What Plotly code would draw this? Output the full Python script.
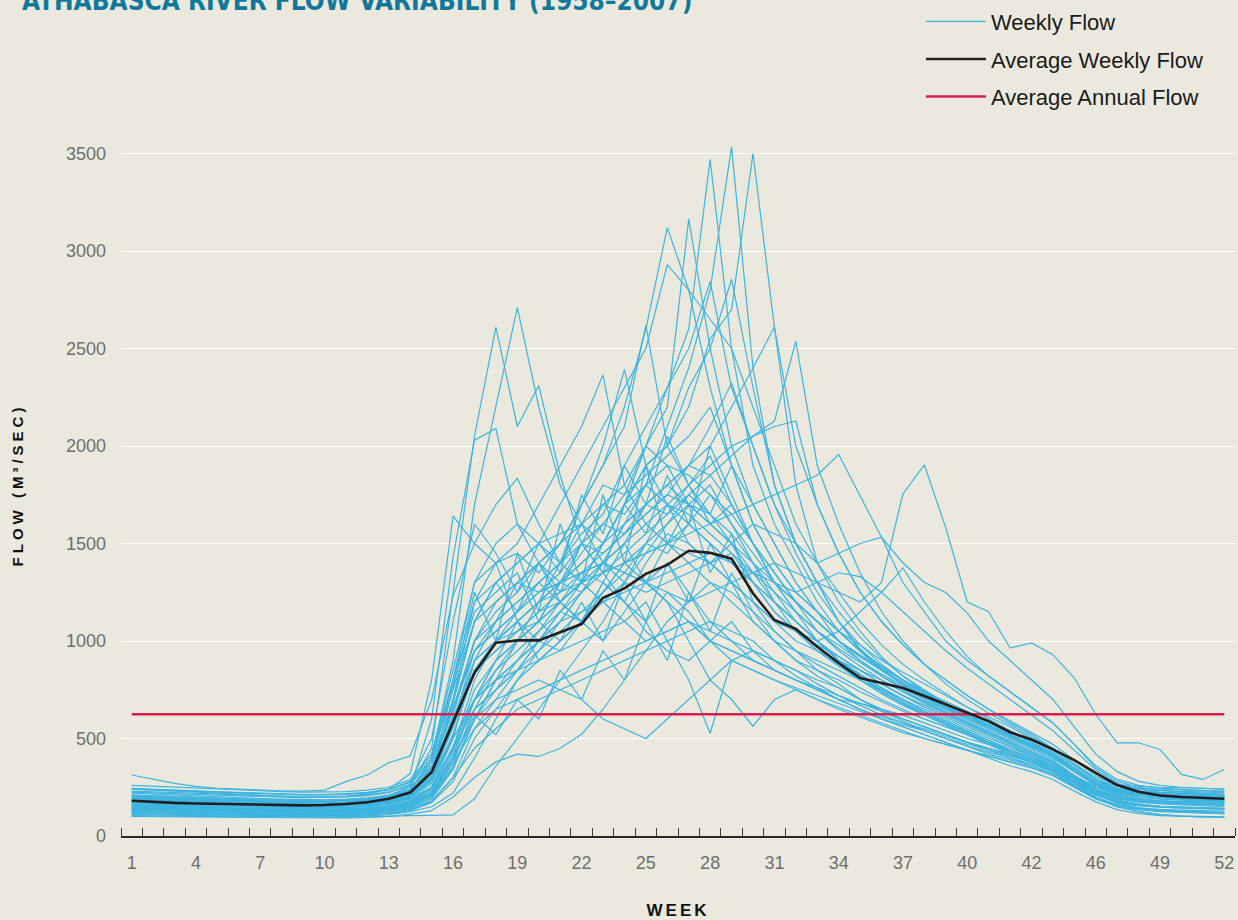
import plotly.graph_objects as go

weeks = list(range(1, 53))
tick_weeks = [1, 4, 7, 10, 13, 16, 19, 22, 25, 28, 31, 34, 37, 40, 43, 46, 49, 52]
tick_labels = ["1", "4", "7", "10", "13", "16", "19", "22", "25", "28", "31", "34",
               "37", "40", "42", "46", "49", "52"]
y_ticks = [0, 500, 1000, 1500, 2000, 2500, 3000, 3500]

# Weekly flow (m3/s) for each year 1958-2007, weeks 1..52
weekly_flows = [
    [200,195,190,185,180,175,172,170,168,170,175,185,200, 260,450,1250, 2050,2610,2100,2310,1850,1500,1350,1200,1100,1250,1150,1000,950,900,850,800,760, 720,680,640,600,560,520,480,450,420,390,350,300,260, 230,210,200,195,190,185],
    [180,175,170,168,165,162,160,158,155,155,158,165,180, 230,400,900, 1700,2205,2710,2200,1800,1600,1400,1500,1300,1200,1100,1050,1000,950,900,850,800, 760,700,650,600,560,520,480,450,420,380,340,290,250, 220,200,190,185,180,175],
    [240,235,230,225,220,215,210,205,200,200,205,215,240, 320,800,1640, 1500,1400,1100,1000,950,1100,1300,1200,1050,950,900,1000,1100,950,850,800,750, 700,680,650,620,580,540,500,470,440,400,360,300,250, 220,210,205,200,195,190],
    [160,158,155,152,150,148,146,145,144,145,148,155,170, 240,600,1430, 2030,2090,1600,1400,1200,1100,1000,1150,1300,1400,1250,1100,1000,900,850,800,750, 700,650,610,580,550,510,480,450,410,380,330,280,230, 200,180,170,165,160,160],
    [313,290,270,255,245,240,235,232,230,235,279,313,376, 410,700,1233, 1500,1700,1834,1600,1400,1300,1200,1100,1000,1050,1100,1000,900,850,800,760,720, 680,640,600,570,540,500,470,440,410,380,340,290,250, 230,220,210,205,200,195],
    [150,148,145,142,140,138,136,135,134,134,136,140,150, 170,220,400, 700,900,1000,1100,1200,1300,1500,1700,2000,2300,2600,3470,2500,1900,1600,1400,1200, 1050,950,850,780,720,660,600,550,500,450,400,330,270, 230,210,200,190,185,180],
    [130,128,125,122,120,118,116,115,114,114,116,120,130, 150,200,350, 600,800,900,1000,1100,1250,1400,1600,1800,2100,2400,2800,3534,2400,1800,1500,1300, 1100,950,850,780,700,640,580,530,480,430,380,310,250, 210,190,180,175,170,165],
    [170,168,165,162,160,158,155,153,152,152,155,160,170, 190,250,450, 800,1000,1100,1200,1300,1400,1500,1700,1900,2000,2200,2550,2700,3500,2610,1800,1400, 1200,1050,920,820,740,670,610,560,510,460,410,340,270, 230,215,205,200,195,190],
    [190,185,180,176,172,168,165,162,160,160,163,170,185, 220,350,650, 1000,1200,1300,1400,1500,1700,1900,2200,2600,3120,2800,2300,1900,1600,1400,1250,1150, 1050,950,870,800,740,680,620,570,520,470,420,340,270, 235,220,210,205,200,195],
    [140,138,135,132,130,128,126,125,124,124,126,130,140, 160,210,380, 650,850,1000,1100,1300,1500,1700,1800,2000,2200,3165,2500,2000,1700,1500,1300,1150, 1000,900,820,750,690,630,580,530,480,430,380,300,240, 200,185,175,170,165,160],
    [210,205,200,196,192,188,185,182,180,180,183,190,205, 240,380,700, 1100,1300,1400,1500,1700,1900,2100,2300,2500,2930,2800,2650,2500,2200,1900,1600,1400, 1250,1100,980,880,800,730,660,600,540,480,420,350,280, 240,225,215,210,205,200],
    [160,158,155,152,150,148,146,144,142,142,145,150,162, 190,270,520, 850,1000,1150,1300,1400,1550,1650,1900,2100,2300,2500,2844,2300,2000,1700,1450,1250, 1100,980,880,800,730,670,610,560,510,460,410,330,260, 220,200,190,185,180,175],
    [120,118,116,114,112,110,108,107,106,106,108,112,120, 140,180,300, 550,700,850,1000,1150,1300,1500,1700,1900,2000,2300,2500,2855,2300,1800,1500,1300, 1100,960,860,780,710,650,590,540,490,440,390,310,240, 195,175,165,160,155,150],
    [175,172,168,165,162,160,158,156,155,155,158,164,178, 205,290,520, 850,1000,1100,1200,1300,1400,1500,1600,1700,1800,1900,2000,2200,2400,2610,2000,1700, 1450,1250,1100,980,880,800,720,650,580,520,450,370,290, 245,225,215,210,205,200],
    [145,143,140,138,136,134,132,130,129,129,131,136,146, 170,230,420, 700,850,950,1050,1150,1250,1350,1450,1550,1650,1750,1850,1950,2050,2128,2537,1900, 1600,1350,1150,1000,880,780,700,630,570,510,450,370,290, 240,215,200,195,190,185],
    [200,196,192,188,184,180,177,174,172,172,175,182,196, 230,330,600, 900,1000,1100,1200,1250,1300,1350,1400,1450,1500,1550,1600,1650,1700,1750,1800,1850, 1956,1744,1532,1300,1150,1000,900,820,740,660,580,470,350, 280,250,235,225,220,215],
    [220,215,210,205,200,196,192,189,186,186,189,196,210, 250,360,650, 950,1050,1150,1250,1300,1350,1400,1350,1300,1250,1200,1250,1300,1350,1400,1350,1300, 1250,1200,1300,1754,1903,1580,1200,1150,964,990,930,810,623, 478,478,444,316,290,341],
    [185,182,178,175,172,169,166,164,162,162,165,172,186, 215,310,560, 850,950,1050,1150,1200,1300,1350,1400,1450,1500,1450,1400,1500,1600,1550,1500,1400, 1450,1500,1532,1400,1300,1249,1143,1000,900,800,700,560,420, 330,280,260,250,245,240],
    [165,162,158,155,152,150,148,146,145,145,148,155,168, 195,300,700, 1200,1400,1500,1700,1900,2100,2365,1800,1600,1500,1400,1300,1200,1100,1000,950,900, 850,800,750,700,650,600,550,500,460,420,370,300,240, 205,190,182,178,175,172],
    [205,200,196,192,188,184,181,178,176,176,179,186,200, 235,380,800, 1300,1500,1600,1500,1400,1700,2000,2392,1900,1700,1500,1400,1300,1200,1100,1000,950, 900,850,800,740,690,630,580,530,480,430,380,310,250, 215,200,192,188,185,180],
    [150,148,145,142,140,138,136,134,133,133,135,140,152, 178,250,500, 900,1100,1300,1400,1500,1700,1900,2100,2620,2000,1800,1600,1500,1300,1150,1050,980, 920,850,780,720,660,610,560,510,460,410,360,290,230, 195,180,172,168,165,162],
    [125,123,120,118,116,114,112,111,110,110,112,117,126, 145,190,340, 600,800,1000,1200,1400,1600,1800,1750,2000,1900,1700,1800,1600,1400,1200,1050,950, 880,800,730,670,620,570,520,470,430,390,340,270,210, 170,155,148,145,142,140],
    [230,226,222,218,214,210,206,203,200,200,203,210,228, 265,400,750, 1100,1200,1300,1250,1350,1500,1600,1750,1850,1950,2050,2200,1900,1700,1500,1300,1150, 1050,950,870,800,740,680,620,570,520,470,420,350,280, 245,230,222,218,215,210],
    [110,108,106,104,102,100,99,98,97,97,99,103,110, 125,150,220, 400,600,800,900,1000,1100,1300,1500,1700,1800,1900,1850,1700,1500,1300,1150,1000, 900,820,740,680,620,570,520,470,420,380,330,260,200, 160,140,130,125,122,120],
    [105,103,101,100,99,98,97,96,95,95,96,98,102, 104,106,108, 191,359,500,650,800,950,1100,1300,1500,1700,1600,1500,1400,1300,1200,1100,1000, 900,820,750,690,630,580,530,480,430,390,340,270,200, 150,125,110,102,98,95],
    [135,133,130,128,126,124,122,121,120,120,122,126,135, 155,210,380, 550,650,700,750,800,850,900,950,1000,1050,1100,1000,950,900,850,800,750, 700,650,600,560,520,480,440,410,380,350,310,250,190, 150,135,125,120,118,115],
    [145,142,140,138,135,133,131,130,129,129,131,135,144, 165,220,400, 600,700,750,800,750,700,600,550,500,600,700,800,900,850,800,750,700, 650,610,570,530,500,470,440,410,380,350,310,250,190, 155,140,130,125,122,120],
    [180,176,172,168,165,162,160,158,156,156,158,164,176, 200,280,500, 700,800,850,900,950,1000,1050,1100,1200,1000,800,527,900,950,900,850,780, 720,670,620,580,540,500,460,430,400,370,330,270,210, 175,160,152,148,145,142],
    [155,152,150,147,145,143,141,139,138,138,140,145,156, 180,250,450, 650,750,850,950,1050,1150,1250,1350,1300,1200,1000,800,700,563,700,750,700, 660,620,580,540,500,470,440,410,380,350,310,250,195, 160,145,137,133,130,128],
    [100,99,98,97,96,95,94,93,92,92,93,96,100, 112,130,200, 300,380,420,408,450,522,650,800,950,1100,1200,1300,1250,1150,1050,950,850, 780,700,640,590,540,500,460,420,390,360,320,260,195, 150,125,110,102,100,98],
    [195,191,187,183,179,176,173,170,168,168,171,178,192, 225,340,650, 1000,1100,1200,1300,1400,1500,1450,1550,1650,1750,1700,1600,1500,1400,1300,1200,1100, 1000,920,850,780,720,660,600,550,500,450,400,330,260, 225,210,200,195,192,190],
    [260,255,250,245,240,236,232,228,225,225,228,235,250, 290,420,800, 1200,1300,1400,1500,1550,1600,1700,1650,1800,1900,1850,1750,1600,1450,1300,1200,1100, 1000,930,860,800,740,690,640,590,540,490,440,370,300, 265,255,250,248,245,240],
    [115,113,111,109,107,105,104,103,102,102,104,108,115, 130,170,280, 500,650,800,950,1100,1250,1400,1350,1500,1600,1700,1650,1550,1400,1250,1100,1000, 900,830,760,700,640,590,540,490,440,400,350,280,215, 170,145,130,122,118,115],
    [170,167,164,161,158,156,154,152,150,150,153,159,172, 200,290,560, 850,950,1050,1150,1250,1350,1450,1550,1650,1750,1900,2100,2323,2000,1700,1500,1300, 1150,1020,910,820,750,680,620,570,520,470,420,340,270, 230,212,202,198,195,192],
    [140,138,135,133,131,129,127,126,125,125,127,131,140, 160,220,420, 700,900,1100,900,1000,1200,1000,1300,1100,1400,1200,1500,1300,1100,1000,900,850, 800,740,690,640,600,560,520,480,440,400,350,280,215, 175,160,150,145,142,140],
    [225,221,217,213,209,205,202,199,197,197,200,207,222, 260,400,780, 1150,1250,1350,1100,1300,1450,1600,1550,1700,1650,1800,1950,1700,1500,1350,1200,1100, 1000,920,850,790,730,680,630,580,530,480,430,360,290, 255,240,232,228,225,222],
    [128,126,124,122,120,118,116,115,114,114,116,120,128, 148,200,380, 650,750,850,1000,1150,1100,1250,1400,1500,1450,1600,1750,1650,1500,1350,1200,1050, 950,870,800,740,680,630,580,530,480,430,380,300,230, 185,165,152,146,142,138],
    [185,181,177,173,170,167,164,162,160,160,163,169,182, 210,300,560, 900,1000,1050,1100,1200,1300,1400,1500,1600,1700,1800,1900,2000,2050,2100,2128,1700, 1450,1250,1100,980,880,800,720,650,590,530,470,390,310, 255,230,218,212,208,205],
    [155,152,149,146,144,142,140,138,137,137,139,144,155, 180,250,460, 700,800,900,1000,1100,1150,1200,1250,1300,1350,1400,1450,1400,1350,1300,1250,1300, 1350,1330,1250,1150,1050,950,860,780,700,620,540,440,340, 270,240,225,218,214,210],
    [118,116,114,112,110,108,106,105,104,104,106,110,118, 135,175,300, 450,550,650,700,750,800,850,900,950,1000,1050,1100,1050,1000,900,820,760, 700,650,600,560,520,480,440,400,360,330,290,230,175, 135,115,105,100,98,96],
    [240,236,232,228,224,220,216,213,210,210,213,220,238, 275,420,850, 1300,1400,1450,1350,1500,1600,1500,1700,1800,1700,1650,1550,1450,1350,1250,1150,1050, 960,890,820,760,700,650,600,560,510,460,410,340,270, 240,228,222,218,215,212],
    [170,167,163,160,157,155,153,151,149,149,152,158,170, 198,290,580, 950,1100,1200,1300,1200,1100,1250,1400,1300,1500,1600,1500,1400,1300,1200,1100,1000, 920,850,780,720,670,620,570,520,470,420,370,300,235, 200,185,177,172,170,168],
    [130,128,126,124,122,120,118,117,116,116,118,122,130, 150,200,360, 600,750,900,1050,1200,1350,1300,1200,1400,1550,1500,1400,1450,1300,1150,1050,950, 870,800,740,680,630,580,530,480,440,400,350,280,215, 175,158,148,143,140,138],
    [210,206,202,198,194,190,187,184,182,182,185,192,206, 240,350,650, 950,1050,1150,1250,1300,1350,1400,1300,1250,1300,1350,1400,1300,1200,1100,1050,1000, 1050,1150,1250,1375,1200,1050,920,820,740,660,580,470,360, 290,260,245,238,234,230],
    [150,147,144,141,139,137,135,133,132,132,134,139,150, 175,240,440, 750,900,1000,1100,1000,1100,1200,1300,1450,1600,1750,1650,1500,1350,1200,1100,1000, 900,830,760,700,640,590,540,490,450,410,360,290,220, 180,160,150,146,143,140],
    [195,191,187,183,179,175,172,170,168,168,171,177,190, 220,320,620, 1000,1150,1250,1400,1300,1250,1400,1600,1700,1800,1700,1600,1700,1500,1350,1200,1100, 1000,920,850,780,720,660,610,560,510,460,410,340,265, 230,215,207,202,198,195],
    [175,171,168,165,162,160,157,155,154,154,157,163,175, 205,330,760, 1250,1000,1450,1150,1600,1300,1750,1400,1900,1500,1700,1350,1550,1200,1050,950,880, 820,760,700,650,600,560,520,480,440,400,360,290,225, 190,175,168,164,160,158],
    [245,240,236,232,228,224,220,217,214,214,217,224,240, 280,500,1100, 1600,1450,1250,1500,1350,1750,1550,1900,1700,2050,1800,1650,1900,1600,1400,1250,1150, 1050,980,900,840,780,720,660,610,560,500,450,370,290, 255,245,240,236,232,228],
    [138,136,133,131,129,127,125,124,123,123,125,129,138, 158,215,400, 620,520,700,600,850,700,950,800,1100,900,1250,1050,1350,1150,1000,900,820, 760,700,650,600,560,520,480,440,400,360,320,255,195, 158,140,130,126,123,120],
    [190,186,182,178,174,171,168,166,164,164,167,174,188, 220,340,680, 1100,1300,1150,1400,1250,1500,1350,1700,1550,1850,1600,2000,1750,1500,1300,1150,1050, 980,900,830,770,710,660,610,560,510,460,410,340,265, 230,215,207,203,200,197],
]

average_weekly_flow = [181,175,170,167,165,162,160,158,157,159,164,173,191, 223,327,585,
                       836,991,1003,1003,1045,1087,1222,1270,1344,1390,1463,1452,1422,1245,1108,1062,971,
                       887,810,785,759,718,674,631,589,532,495,444,389,324,
                       261,227,208,200,196,191]
average_annual_flow = 625

BG = "#ebe9dd"
BLUE = "#3db4e0"
BLACK = "#231f20"
RED = "#d81e4f"

fig = go.Figure()
for i, flows in enumerate(weekly_flows):
    fig.add_trace(go.Scatter(
        x=weeks, y=flows, mode="lines",
        line=dict(color=BLUE, width=1.2),
        name="Weekly Flow", legendgroup="weekly", legendrank=1,
        showlegend=(i == 0), hoverinfo="skip"))

fig.add_trace(go.Scatter(
    x=weeks, y=[average_annual_flow] * len(weeks), mode="lines",
    line=dict(color=RED, width=2.5),
    name="Average Annual Flow", legendgroup="annual", legendrank=3))

fig.add_trace(go.Scatter(
    x=weeks, y=average_weekly_flow, mode="lines",
    line=dict(color=BLACK, width=2.6),
    name="Average Weekly Flow", legendgroup="avg", legendrank=2))

fig.update_layout(
    width=1238, height=920,
    paper_bgcolor=BG, plot_bgcolor=BG,
    margin=dict(l=121, r=3, t=134, b=84, autoexpand=False),
    font=dict(family="Liberation Sans, Arial, sans-serif", color="#6e6e6e"),
    showlegend=True,
    legend=dict(
        x=0.9766, xanchor="right", y=1.19, yanchor="top",
        bgcolor="rgba(0,0,0,0)",
        font=dict(size=22, color="#1a1a1a", family="Liberation Sans, Arial, sans-serif"),
        tracegroupgap=6, itemwidth=60,
    ),
    xaxis=dict(
        range=[0.5, 52.5], tickmode="array", tickvals=tick_weeks, ticktext=tick_labels,
        ticks="", showgrid=False, zeroline=False,
        showline=True, linecolor="#2a2a2a", linewidth=1.6,
        tickfont=dict(size=18, color="#6e6e6e"), ticklabelstandoff=10,
        minor=dict(tick0=0.5, dtick=1, ticks="inside", ticklen=8,
                   tickcolor="#3a3a3a", tickwidth=1, showgrid=False),
        title=dict(text='<b><span style="letter-spacing:3px">WEEK</span></b>',
                   font=dict(size=17, color="#111111"), standoff=32),
        fixedrange=True,
    ),
    yaxis=dict(
        range=[0, 3600], tickmode="array", tickvals=y_ticks,
        showgrid=True, gridcolor="#ffffff", gridwidth=1.2,
        zeroline=False, showline=False, ticks="",
        tickfont=dict(size=18, color="#6e6e6e"), ticklabelstandoff=14,
        title=dict(text='<b><span style="letter-spacing:4px">FLOW (M³/SEC)</span></b>',
                   font=dict(size=15, color="#111111"), standoff=38),
        fixedrange=True,
    ),
    annotations=[dict(
        text="<b>ATHABASCA RIVER FLOW VARIABILITY (1958–2007)</b>",
        xref="paper", yref="paper", x=-0.0907, y=1.19, xanchor="left", yanchor="middle",
        showarrow=False,
        font=dict(size=26, color="#10789b",
                  family="Liberation Sans Narrow, DejaVu Sans Condensed, Liberation Sans, sans-serif"),
    )],
)

fig.write_html("out.html", config={"displayModeBar": False},
               post_script="document.body.style.margin='0';")
